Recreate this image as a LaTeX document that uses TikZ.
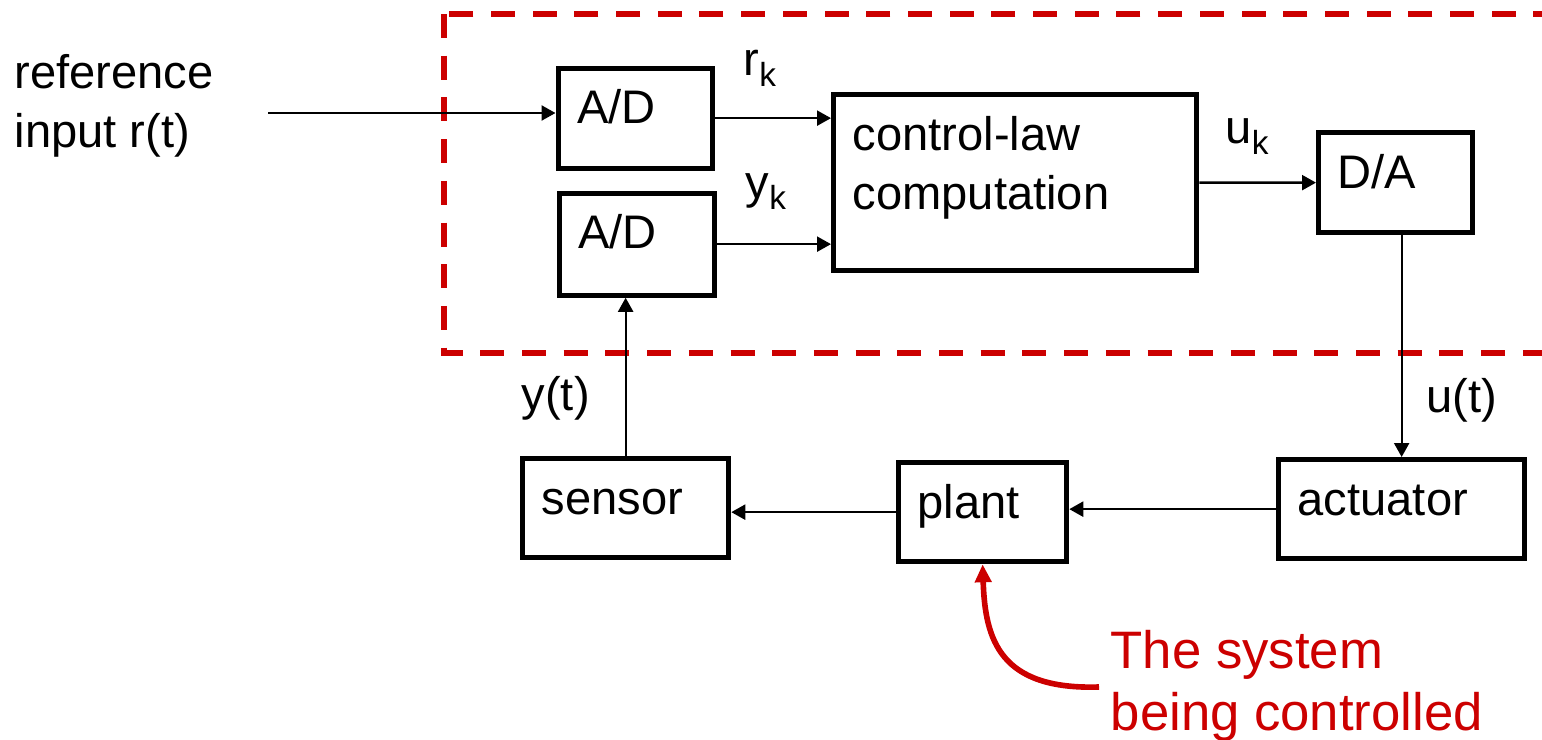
\documentclass[tikz,border=0pt]{standalone}
\usepackage{fontspec}
\setmainfont{Liberation Sans}
\usepackage{graphicx}
\usetikzlibrary{arrows.meta}
\definecolor{sysred}{RGB}{204,0,0}
\newcommand{\lowk}[1]{\raisebox{-0.11cm}{\fontsize{9.5}{10}\selectfont #1}}

\begin{document}
\begin{tikzpicture}[x=1cm,y=1cm,
  font=\fontsize{13.4}{16}\selectfont,
  blk/.style={draw,line width=1.5pt,inner sep=0pt,anchor=north west},
  lbl/.style={anchor=base west,inner sep=0pt,xshift=0.21cm,yshift=-0.58cm},
  txt/.style={anchor=base west,inner sep=0pt},
  arr/.style={line width=0.65pt,-{Triangle[length=0.14cm,width=0.15cm]}},
  note/.style={txt,text=sysred,font=\fontsize{15}{18}\selectfont}]
  \useasboundingbox (0,0) rectangle (15.42,-7.39);
  \draw[sysred,line width=1.7pt,dash pattern=on 0.24cm off 0.177cm]
    (4.44,-0.14) rectangle (16.0,-3.53);
  \node[blk,minimum width=1.54cm,minimum height=1.00cm,label={[lbl]north west:A/D}]
    (adr) at (5.555,-0.655) {};
  \node[blk,minimum width=1.55cm,minimum height=1.02cm,label={[lbl]north west:A/D}]
    (ady) at (5.565,-1.905) {};
  \node[blk,minimum width=3.63cm,minimum height=1.76cm,
    label={[lbl]north west:control-law},
    label={[lbl,yshift=-0.59cm]north west:computation}]
    (law) at (8.31,-0.92) {};
  \node[blk,minimum width=1.54cm,minimum height=1.00cm,label={[lbl]north west:D/A}]
    (dac) at (13.16,-1.30) {};
  \node[blk,minimum width=2.06cm,minimum height=0.99cm,label={[lbl]north west:sensor}]
    (sen) at (5.20,-4.56) {};
  \node[blk,minimum width=1.68cm,minimum height=0.99cm,label={[lbl]north west:plant}]
    (plt) at (8.96,-4.60) {};
  \node[blk,minimum width=2.46cm,minimum height=0.99cm,label={[lbl]north west:actuator}]
    (act) at (12.76,-4.57) {};
  \node[txt] (ref1) at (0.14,-0.88) {reference};
  \node[txt] (ref2) at (0.14,-1.47) {input r(t)};
  \coordinate (rin) at (2.68,-1.13);
  \draw[arr] (rin) -- (rin -| adr.west);
  \draw[arr] (adr) -- (adr -| law.west);
  \draw[arr] (ady) -- (ady -| law.west);
  \draw[arr] (law) -- (dac);
  \draw[arr] (act.north |- dac.south) -- (act);
  \draw[arr] (act) -- (act -| plt.east);
  \draw[arr] (plt) -- (plt -| sen.east);
  \draw[arr] (sen) -- (sen |- ady.south);
  \node[txt] (rk) at (7.43,-0.75) {r\lowk{k}};
  \node[txt] (yk) at (7.45,-1.98) {y\lowk{k}};
  \node[txt] (uk) at (12.25,-1.43) {u\lowk{k}};
  \node[txt] (ut) at (14.26,-4.12) {u(t)};
  \node[txt] (yt) at (5.21,-4.10) {y(t)};
  \node[note] (sys1) at (11.10,-6.68) {The system};
  \node[note] (sys2) at (11.10,-7.30) {being controlled};
  \coordinate (sysfoot) at (10.99,-6.87);
  \draw[sysred,line width=1.6pt,-{Triangle[length=0.18cm,width=0.16cm]}]
    (sysfoot) .. controls (10.0,-6.90) and (9.85,-6.40) .. (plt.south);
\end{tikzpicture}
\end{document}
